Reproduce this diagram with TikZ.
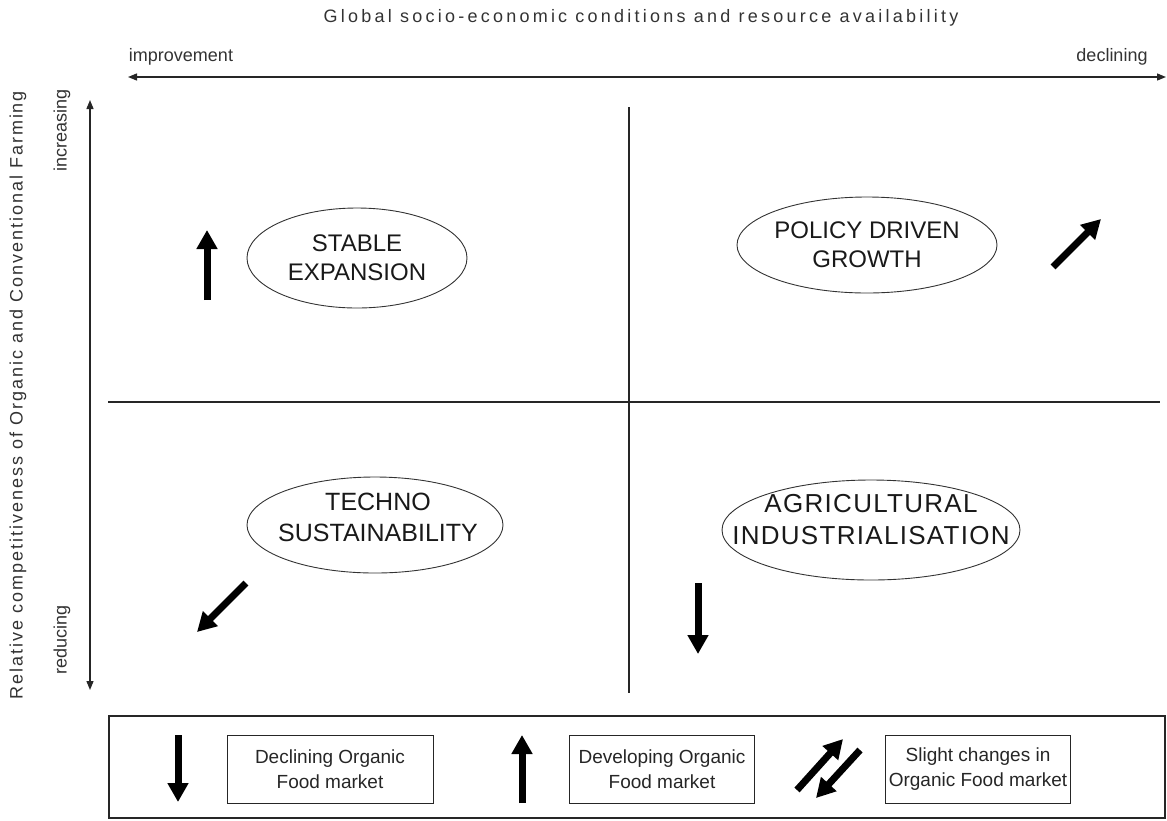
\documentclass[tikz,border=0pt]{standalone}
\usepackage{fontspec}
\setmainfont{Liberation Sans}
\newfontfamily\titlefont[LetterSpace=18]{Liberation Sans}
\newfontfamily\ylabfont[LetterSpace=11]{Liberation Sans}
\newfontfamily\widefont[LetterSpace=5]{Liberation Sans}
\usetikzlibrary{arrows.meta,shapes.geometric}
\begin{document}
\begin{tikzpicture}[x=1pt,y=-1pt,
  lbl/.style={inner sep=0pt,font=\fontsize{18}{21}\selectfont,text=black!80},
  axis/.style={line width=1.3pt,black!85,{Triangle[length=9pt,width=7pt]}-{Triangle[length=9pt,width=7pt]}},
  divider/.style={line width=1.3pt,black!85},
  scen/.style={ellipse,draw=black!80,line width=0.9pt,inner sep=0pt},
  scentext/.style={align=center,inner sep=0pt,font=\fontsize{24}{29}\selectfont,text=black!90},
  fat/.style={line width=7pt,-{Triangle[length=19pt,width=20pt]}},
  keybox/.style={draw=black!85,line width=1pt,align=center,inner sep=0pt,minimum height=68pt,font=\fontsize{19}{25}\selectfont,text=black!85}]
\useasboundingbox (0,0) rectangle (1167,820);
% titles
\node[lbl,font=\titlefont\fontsize{18}{21}\selectfont] (title) at (641,18) {Global socio-economic conditions and resource availability};
\node[lbl] (impr) at (181,57) {improvement};
\node[lbl] (decl) at (1112,57) {declining};
\node[lbl,rotate=90,font=\ylabfont\fontsize{18}{21}\selectfont] (ylab) at (18,395) {Relative competitiveness of Organic and Conventional Farming};
\node[lbl,rotate=90] (incr) at (62,130) {increasing};
\node[lbl,rotate=90] (redu) at (62,640) {reducing};
% axes
\coordinate (xl) at (128,77);
\coordinate (xr) at (1166,77);
\coordinate (yt) at (90,100);
\coordinate (yb) at (90,690);
\draw[axis] (xl) -- (xr);
\draw[axis] (yt) -- (yb);
% dividers
\coordinate (vt) at (629,107);
\coordinate (vb) at (629,693);
\coordinate (hl) at (108,402);
\coordinate (hr) at (1160,402);
\draw[divider] (vt) -- (vb);
\draw[divider] (hl) -- (hr);
% scenarios
\node[scen,minimum width=220pt,minimum height=100pt] (se) at (357,258) {};
\node[scentext] (set) at (357,258) {STABLE\\EXPANSION};
\node[scen,minimum width=260pt,minimum height=96pt] (pd) at (867,245) {};
\node[scentext] (pdt) at (867,245) {POLICY DRIVEN\\GROWTH};
\node[scen,minimum width=256pt,minimum height=96pt] (ts) at (375,525) {};
\node[scentext,font=\fontsize{25}{31}\selectfont] (tst) at (378,517) {TECHNO\\SUSTAINABILITY};
\node[scen,minimum width=298pt,minimum height=100pt] (ai) at (871,530) {};
\node[scentext,font=\widefont\fontsize{26}{32}\selectfont] (ait) at (871,520) {AGRICULTURAL\\INDUSTRIALISATION};
% trend arrows
\coordinate (a1s) at (207,300); \coordinate (a1e) at (207,230);
\coordinate (a2s) at (1053,267); \coordinate (a2e) at (1101,219);
\coordinate (a3s) at (246,583); \coordinate (a3e) at (197,632);
\coordinate (a4s) at (698,583); \coordinate (a4e) at (698,654);
\draw[fat] (a1s) -- (a1e);
\draw[fat] (a2s) -- (a2e);
\draw[fat] (a3s) -- (a3e);
\draw[fat] (a4s) -- (a4e);
% legend
\node[draw=black!85,line width=1.2pt,minimum width=1056pt,minimum height=102pt,inner sep=0pt] (legend) at (637,767) {};
\coordinate (l1s) at (178,735); \coordinate (l1e) at (178,802);
\coordinate (l2s) at (522,803); \coordinate (l2e) at (522,735);
\coordinate (l3s) at (797,790); \coordinate (l3e) at (843,739);
\coordinate (l4s) at (860,750); \coordinate (l4e) at (816,798);
\draw[fat] (l1s) -- (l1e);
\draw[fat] (l2s) -- (l2e);
\draw[fat] (l3s) -- (l3e);
\draw[fat] (l4s) -- (l4e);
\node[keybox,minimum width=206pt] (k1) at (330,769) {Declining Organic\\Food market};
\node[keybox,minimum width=185pt] (k2) at (662,769) {Developing Organic\\Food market};
\node[keybox,minimum width=185pt] (k3) at (978,769) {Slight changes in\\Organic Food market};
\end{tikzpicture}
\end{document}
